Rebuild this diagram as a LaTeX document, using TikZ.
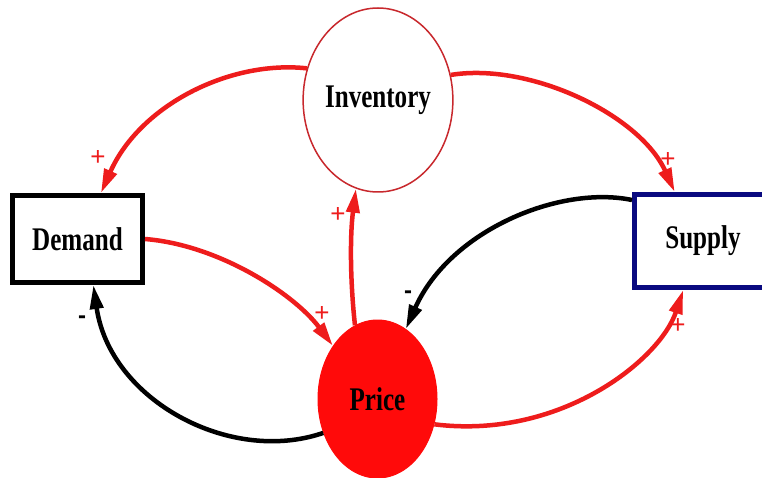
\documentclass[tikz,border=0pt]{standalone}
\usepackage{fontspec}
\usetikzlibrary{arrows.meta,shapes.geometric}
\newfontfamily\lblfont{Liberation Serif}[FakeStretch=0.76]
\newfontfamily\signfont{Liberation Sans}
\definecolor{linered}{HTML}{EE1C1C}
\definecolor{pricered}{HTML}{FF0A0A}
\definecolor{invred}{HTML}{C8282D}
\definecolor{navy}{HTML}{0A0A80}
\tikzset{
  lbl/.style={font=\lblfont\bfseries\fontsize{33}{33}\selectfont},
  boxnode/.style={draw, line width=5pt, fill=white, inner sep=0pt, lbl},
  poslink/.style={linered, line width=4.5pt, -{Triangle[length=24pt,width=13pt]}},
  neglink/.style={black, line width=4.5pt, -{Triangle[length=24pt,width=13pt]}},
  plussign/.style={text=linered, font=\signfont\fontsize{26}{26}\selectfont, inner sep=0pt},
  minussign/.style={text=black, font=\signfont\bfseries\fontsize{24}{24}\selectfont, inner sep=0pt}
}
\begin{document}
\begin{tikzpicture}[x=1pt,y=-1pt]
\useasboundingbox (0,0) rectangle (762,478);
\fill[white] (0,0) rectangle (762,478);
\begin{scope}
\clip (0,0) rectangle (762,478);
\node[boxnode, minimum width=130pt, minimum height=87pt] (demand) at (77.5,239) {Demand};
\node[boxnode, draw=navy, minimum width=137pt, minimum height=93pt] (supply) at (703,241) {Supply};
\node[ellipse, draw=invred, line width=1.5pt, fill=white, minimum width=130pt, minimum height=184pt, inner sep=0pt, lbl] (inv) at (378,100) {Inventory};
\node[ellipse, draw=pricered, fill=pricered, line width=1pt, minimum width=119pt, minimum height=158pt, inner sep=0pt, lbl] (price) at (377.5,399) {Price};

\draw[poslink] (inv.156) .. controls (230,60) and (140,105) .. (demand.63);
\draw[poslink] (inv.19) .. controls (530,62) and (640,115) .. (supply.120);
\draw[poslink] (demand.east) .. controls (220,245) and (295,295) .. (price.130);
\draw[poslink] (price.107) .. controls (350,280) and (350,235) .. (inv.256);
\draw[neglink] (supply.150) .. controls (560,185) and (450,230) .. (price.68);
\draw[neglink] (price.212) .. controls (230,465) and (110,400) .. (demand.-71);
\draw[poslink] (price.336) .. controls (560,440) and (660,360) .. (supply.248);

\node[plussign] (p1) at (98,158) {+};
\node[plussign] (p2) at (668,160) {+};
\node[plussign] (p3) at (322,314) {+};
\node[plussign] (p4) at (338,215) {+};
\node[plussign] (p5) at (678,326) {+};
\node[minussign] (m1) at (408,295) {-};
\node[minussign] (m2) at (82,320) {-};
\end{scope}
\end{tikzpicture}
\end{document}
